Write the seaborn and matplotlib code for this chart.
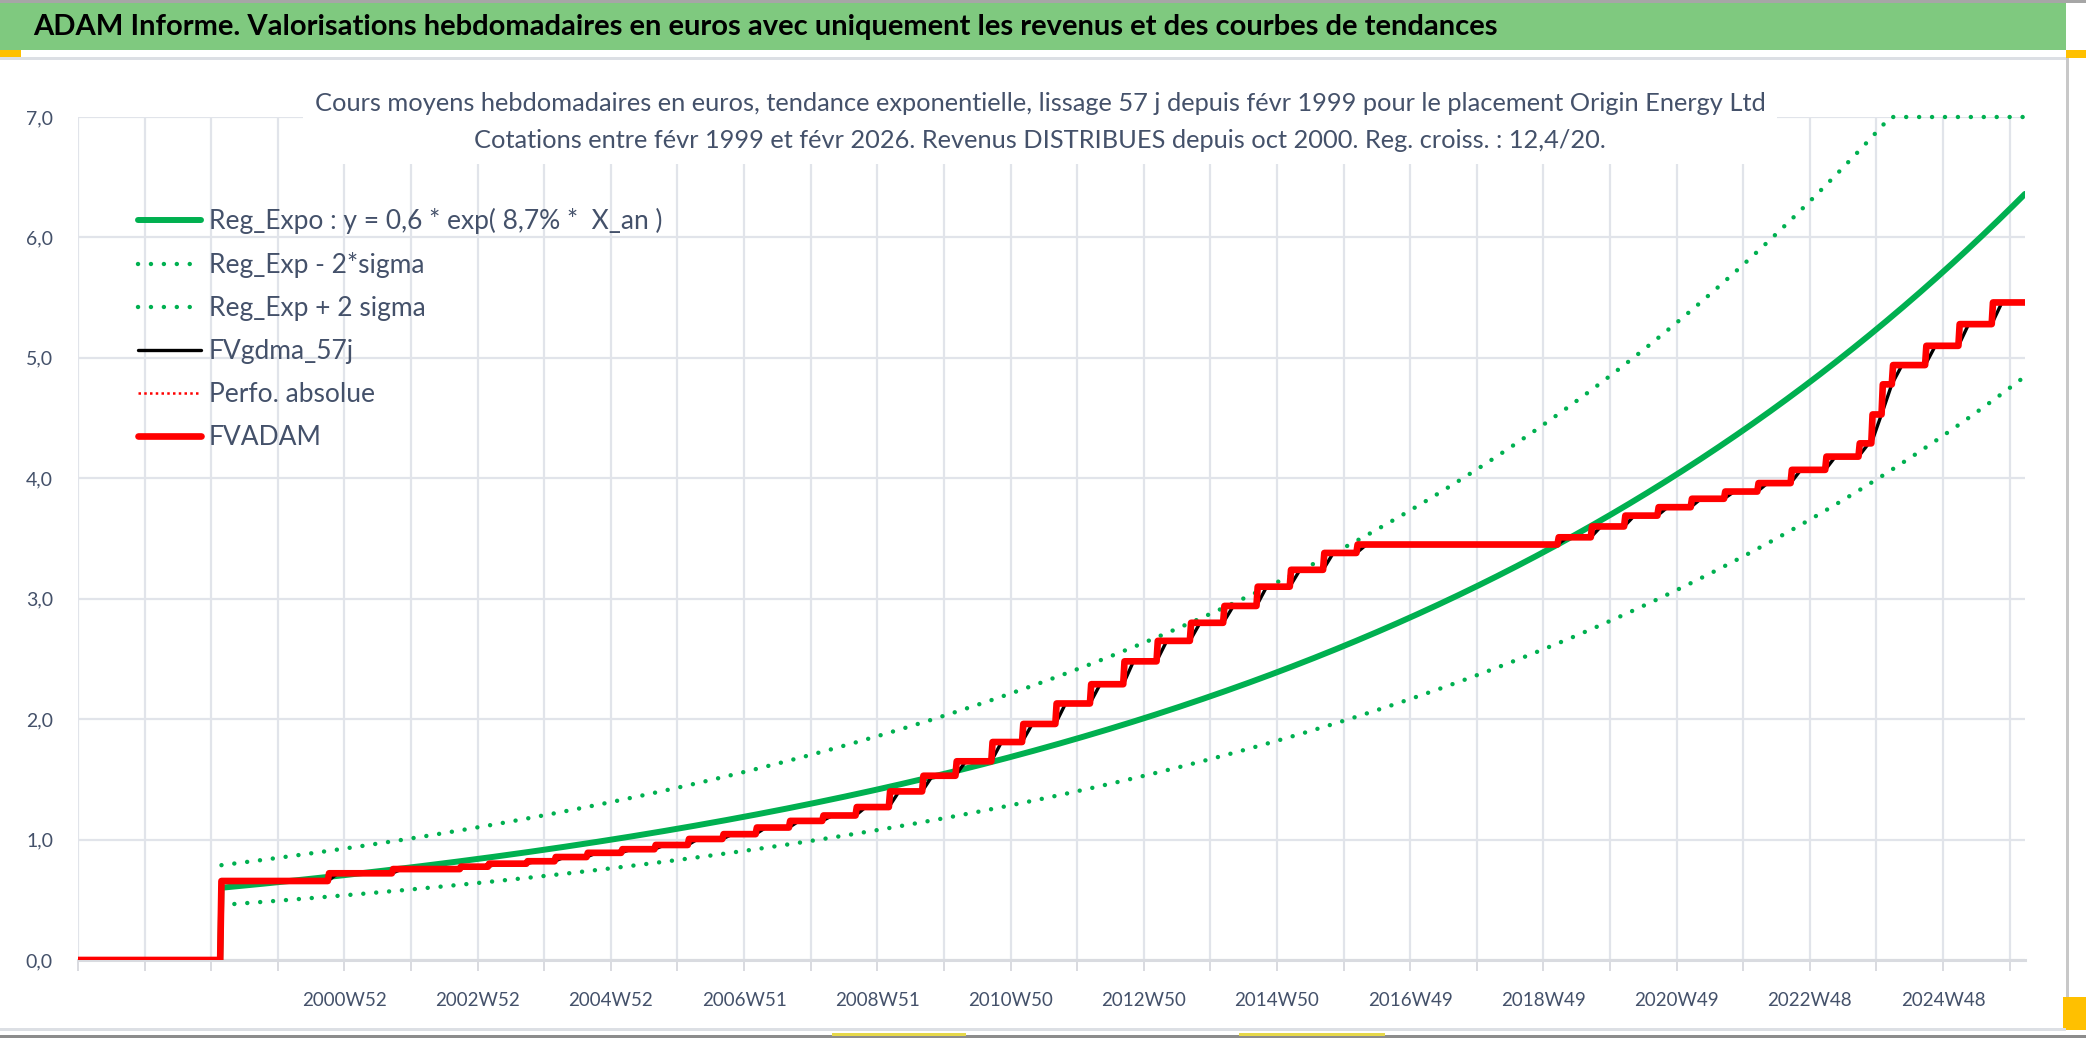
import numpy as np
import pandas as pd
import seaborn as sns
import matplotlib.pyplot as plt
from matplotlib.patches import Rectangle
from matplotlib.ticker import FixedLocator, FuncFormatter

# Weekly category axis: starts 1997W01, first quote late Feb 1999, last Feb 2026
AXIS_START_YEAR = 1997.0
WEEKS_PER_YEAR = 52.18
N_WEEKS = 1521
FIRST_QUOTE_YEAR = 1999.15

X_LABELS = ["2000W52", "2002W52", "2004W52", "2006W51", "2008W51", "2010W50",
            "2012W50", "2014W50", "2016W49", "2018W49", "2020W49", "2022W48",
            "2024W48"]

# FVADAM: dates (decimal years) where the value steps, and the new level
STEP_YEARS = [1999.15, 2000.75, 2001.72, 2002.73, 2003.15, 2003.73, 2004.14,
              2004.63, 2005.15, 2005.65, 2006.15, 2006.65, 2007.15, 2007.65,
              2008.15, 2008.65, 2009.15, 2009.65, 2010.15, 2010.68, 2011.15,
              2011.65, 2012.15, 2012.65, 2013.15, 2013.65, 2014.15, 2014.65,
              2015.15, 2015.65, 2016.15, 2019.15, 2019.65, 2020.15, 2020.65,
              2021.15, 2021.65, 2022.15, 2022.65, 2023.15, 2023.65, 2023.85,
              2024.00, 2024.15, 2024.65, 2025.15, 2025.65]
STEP_LEVELS = [0.656, 0.72, 0.755, 0.775, 0.80, 0.82, 0.855,
               0.89, 0.92, 0.955, 1.005, 1.045, 1.10, 1.155,
               1.20, 1.27, 1.40, 1.53, 1.65, 1.81, 1.96,
               2.13, 2.29, 2.48, 2.65, 2.80, 2.94, 3.10,
               3.24, 3.38, 3.45, 3.51, 3.60, 3.69, 3.76,
               3.83, 3.89, 3.96, 4.07, 4.18, 4.29, 4.53,
               4.78, 4.94, 5.10, 5.28, 5.46]

# exponential regression (legend: y = 0,6 * exp(8,7% * X_an)), +/- 2 sigma
REG_A = 0.6
REG_RATE = 0.0875
TWO_SIGMA = 0.272
SMOOTH_WEEKS = 8   # ~57 days

W, H = 2086, 1038
GREEN = "#00b050"
TXT = "#44516a"
GRID = "#e1e4ea"

# build the weekly series
week = np.arange(N_WEEKS)
start_idx = int(round((FIRST_QUOTE_YEAR - AXIS_START_YEAR) * WEEKS_PER_YEAR))
step_idx = np.round((np.array(STEP_YEARS) - AXIS_START_YEAR) * WEEKS_PER_YEAR).astype(int)
pos = np.searchsorted(step_idx, week, side="right") - 1
fvadam = np.where(pos >= 0, np.array(STEP_LEVELS)[np.clip(pos, 0, None)], 0.0)

t_years = (week - start_idx) / WEEKS_PER_YEAR
live = week >= start_idx
reg = np.where(live, REG_A * np.exp(REG_RATE * t_years), 0.0)
low = np.where(live, reg * np.exp(-TWO_SIGMA), np.nan)
high = np.where(live, np.minimum(reg * np.exp(TWO_SIGMA), 7.0), np.nan)
smooth = pd.Series(np.where(live, fvadam, np.nan)).rolling(SMOOTH_WEEKS, min_periods=1).mean()
smooth = np.where(live, smooth, 0.0)

df = pd.DataFrame({"week": week, "FVADAM": fvadam, "reg": reg, "low": low,
                   "high": high, "smooth": smooth})

sns.set_theme(style="white")
plt.rcParams["font.family"] = ["Lato", "DejaVu Sans"]

fig = plt.figure(figsize=(W / 100, H / 100), dpi=100)
ax = fig.add_axes([78 / W, 1 - 960 / H, (2025 - 78) / W, (960 - 117) / H])

dots = (0, (0.01, 2.9))
sns.lineplot(data=df, x="week", y="reg", ax=ax, color=GREEN, linewidth=4.3,
             estimator=None, zorder=3, label="Reg_Expo : y = 0,6 * exp( 8,7% *  X_an )")
sns.lineplot(data=df, x="week", y="low", ax=ax, color=GREEN, linewidth=3.2,
             linestyle=dots, dash_capstyle="round", estimator=None, zorder=2,
             label="Reg_Exp - 2*sigma")
sns.lineplot(data=df, x="week", y="high", ax=ax, color=GREEN, linewidth=3.2,
             linestyle=dots, dash_capstyle="round", estimator=None, zorder=2,
             label="Reg_Exp + 2 sigma", clip_on=False)
sns.lineplot(data=df, x="week", y="smooth", ax=ax, color="black", linewidth=2.4,
             estimator=None, zorder=4, label="FVgdma_57j")
sns.lineplot(data=df, x="week", y="FVADAM", ax=ax, color="#ff0000", linewidth=1.8,
             linestyle=(0, (1, 1.3)), estimator=None, zorder=4.5, label="Perfo. absolue")
sns.lineplot(data=df, x="week", y="FVADAM", ax=ax, color="#ff0000", linewidth=4.8,
             estimator=None, zorder=5, label="FVADAM")

ax.set_xlim(0, N_WEEKS - 1)
ax.set_ylim(0, 7)
ax.set_xlabel("")
ax.set_ylabel("")

# gridline every 52 weeks, label every 104 weeks from 2000W52
grid_pos = np.arange(0, N_WEEKS, 52)
label_pos = {208 + 104 * i: lab for i, lab in enumerate(X_LABELS)}
ax.xaxis.set_major_locator(FixedLocator(grid_pos))
ax.set_xticklabels([label_pos.get(p, "") for p in grid_pos])
ax.set_yticks(np.arange(0, 8, 1))
ax.yaxis.set_major_formatter(FuncFormatter(lambda v, _: f"{v:.1f}".replace(".", ",")))

ax.grid(True, color=GRID, linewidth=1.6)
ax.set_axisbelow(True)
for s in ["top", "right", "left"]:
    ax.spines[s].set_visible(False)
ax.spines["bottom"].set_color("#d9dbe0")
ax.spines["bottom"].set_linewidth(2.2)
ax.tick_params(axis="x", bottom=True, length=8, width=1.4, color="#d9dbe0",
               labelsize=13.5, labelcolor=TXT, pad=15)
ax.tick_params(axis="y", left=False, labelsize=14, labelcolor=TXT, pad=12)

ax.legend(loc="upper left", bbox_to_anchor=(138 / W, 1 - 208 / H),
          bbox_transform=fig.transFigure, frameon=False, fontsize=19,
          labelcolor=TXT, handlelength=2.4, handletextpad=0.28,
          labelspacing=0.68, borderpad=0, borderaxespad=0)

# subtitle with white background hiding the gridlines behind it
fig.text(1040 / W, 1 - 122 / H,
         "Cours moyens hebdomadaires en euros, tendance exponentielle, lissage 57 j depuis févr 1999 pour le placement Origin Energy Ltd\n"
         "Cotations entre févr 1999 et févr 2026. Revenus DISTRIBUES depuis oct 2000. Reg. croiss. : 12,4/20.",
         ha="center", va="center", fontsize=18.3, color=TXT, linespacing=1.78,
         bbox=dict(facecolor="white", edgecolor="none", pad=8))


def px_rect(x, y, w, h, color):
    fig.add_artist(Rectangle((x / W, 1 - (y + h) / H), w / W, h / H,
                             transform=fig.transFigure, facecolor=color,
                             edgecolor="none", zorder=0.5))


# title bar and frame
px_rect(0, 0, W, 3, "#a6a6a6")
px_rect(0, 3, 2066, 47, "#7fc97f")
px_rect(0, 50, 21, 7, "#ffc000")
px_rect(2066, 50, 20, 8, "#ffc000")
px_rect(0, 57, 2066, 3, "#dcdfe4")
px_rect(2066, 58, 3, 972, "#c8c8c8")
px_rect(2063, 997, 23, 33, "#ffc000")
px_rect(0, 1028, 2066, 3, "#dcdfe4")
px_rect(0, 1035, W, 3, "#8c8c8c")
px_rect(832, 1033, 134, 3, "#e6d84a")
px_rect(1239, 1033, 146, 3, "#e6d84a")

fig.text(33 / W, 1 - 27 / H,
         "ADAM Informe. Valorisations hebdomadaires en euros avec uniquement les revenus et des courbes de tendances",
         ha="left", va="center", fontsize=21, fontweight="bold", color="black")

fig.savefig("out.png", dpi=100)
